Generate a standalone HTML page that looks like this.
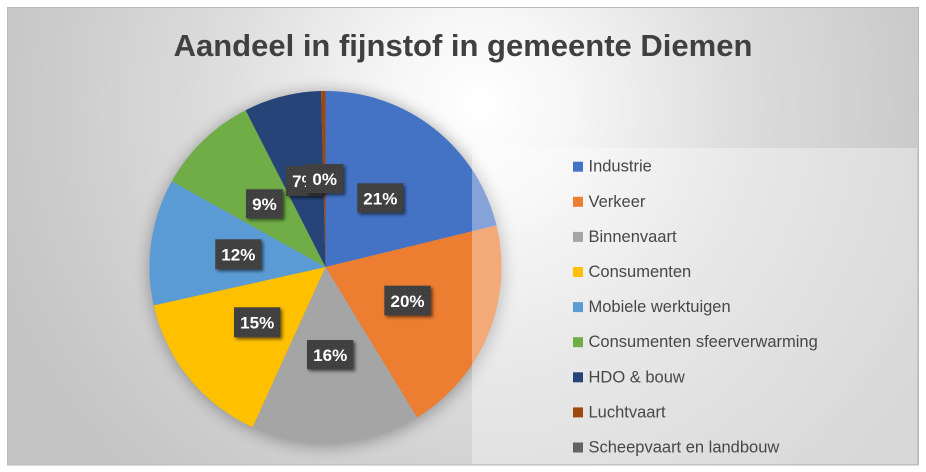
<!DOCTYPE html>
<html>
<head>
<meta charset="utf-8">
<style>
  html, body { margin:0; padding:0; background:#ffffff; }
  body { width:926px; height:472px; overflow:hidden; }
  svg { display:block; }
</style>
</head>
<body>
<svg width="926" height="472" viewBox="0 0 926 472" xmlns="http://www.w3.org/2000/svg">
  <defs>
    <radialGradient id="bg" gradientUnits="userSpaceOnUse" cx="480" cy="105" r="520">
      <stop offset="0" stop-color="#ffffff"/>
      <stop offset="0.18" stop-color="#f6f6f6"/>
      <stop offset="0.5" stop-color="#dddddd"/>
      <stop offset="0.85" stop-color="#cacaca"/>
      <stop offset="1" stop-color="#c4c4c4"/>
    </radialGradient>
    <filter id="pieShadow" x="-30%" y="-30%" width="160%" height="160%">
      <feGaussianBlur stdDeviation="8"/>
    </filter>
    <filter id="boxShadow" x="-30%" y="-30%" width="160%" height="160%">
      <feGaussianBlur stdDeviation="1.5"/>
    </filter>
    <pattern id="tex" width="4" height="4" patternUnits="userSpaceOnUse">
      <rect width="4" height="4" fill="#3f3f3f"/>
      <rect x="0" y="0" width="1" height="1" fill="#4d4d4d"/>
      <rect x="2" y="2" width="1" height="1" fill="#4a4a4a"/>
    </pattern>
  </defs>

  <!-- chart background -->
  <rect x="7" y="7" width="911" height="458" fill="url(#bg)"/>
  <rect x="7.5" y="7.5" width="911" height="457.5" fill="none" stroke="#bababa" stroke-width="1"/>

  <!-- title -->
  <text x="463" y="56" text-anchor="middle" font-family="Liberation Sans, sans-serif" font-weight="bold" font-size="31" fill="#404040">Aandeel in fijnstof in gemeente Diemen</text>

  <!-- pie shadow -->
  <circle cx="326.5" cy="269" r="177" fill="#000" opacity="0.32" filter="url(#pieShadow)"/>

  <!-- pie slices -->
  <g stroke="none">
    <path d="M325.5,267 L325.5,91 A176,176 0 0 1 496.5,225.4 Z" fill="#4472C4"/>
    <path d="M325.5,267 L496.5,225.4 A176,176 0 0 1 417.0,417.4 Z" fill="#ED7D31"/>
    <path d="M325.5,267 L417.0,417.4 A176,176 0 0 1 252.6,427.2 Z" fill="#A5A5A5"/>
    <path d="M325.5,267 L252.6,427.2 A176,176 0 0 1 153.7,305.4 Z" fill="#FFC000"/>
    <path d="M325.5,267 L153.7,305.4 A176,176 0 0 1 171.8,181.2 Z" fill="#5B9BD5"/>
    <path d="M325.5,267 L171.8,181.2 A176,176 0 0 1 245.6,110.2 Z" fill="#70AD47"/>
    <path d="M325.5,267 L245.6,110.2 A176,176 0 0 1 321.1,91.0 Z" fill="#264478"/>
    <path d="M325.5,267 L321.1,91.0 A176,176 0 0 1 325.5,91 Z" fill="#9E480E"/>
  </g>

  <!-- legend overlay -->
  <rect x="472" y="148" width="445" height="316" fill="#ffffff" opacity="0.35"/>

  <!-- data labels -->
  <g font-family="Liberation Sans, sans-serif" font-weight="bold" font-size="17" fill="#ffffff" text-anchor="middle">
    <rect x="359.3" y="185.3" width="46" height="29.4" fill="#000" opacity="0.55" filter="url(#boxShadow)"/>
    <rect x="357.3" y="183.3" width="46" height="29.4" fill="url(#tex)"/>
    <text x="380.3" y="204.3">21%</text>
    <rect x="386.3" y="287.7" width="46.4" height="29.6" fill="#000" opacity="0.55" filter="url(#boxShadow)"/>
    <rect x="384.3" y="285.7" width="46.4" height="29.6" fill="url(#tex)"/>
    <text x="407.5" y="306.8">20%</text>
    <rect x="309" y="342" width="46.3" height="29.3" fill="#000" opacity="0.55" filter="url(#boxShadow)"/>
    <rect x="307" y="340" width="46.3" height="29.3" fill="url(#tex)"/>
    <text x="330.2" y="361">16%</text>
    <rect x="236" y="309.3" width="46.3" height="30" fill="#000" opacity="0.55" filter="url(#boxShadow)"/>
    <rect x="234" y="307.3" width="46.3" height="30" fill="url(#tex)"/>
    <text x="257.2" y="328.4">15%</text>
    <rect x="217.3" y="241.3" width="46" height="30" fill="#000" opacity="0.55" filter="url(#boxShadow)"/>
    <rect x="215.3" y="239.3" width="46" height="30" fill="url(#tex)"/>
    <text x="238.3" y="260.4">12%</text>
    <rect x="248" y="191.3" width="36.7" height="29" fill="#000" opacity="0.55" filter="url(#boxShadow)"/>
    <rect x="246" y="189.3" width="36.7" height="29" fill="url(#tex)"/>
    <text x="264.4" y="210.2">9%</text>
    <rect x="288" y="168" width="36.7" height="30" fill="#000" opacity="0.55" filter="url(#boxShadow)"/>
    <rect x="286" y="166" width="36.7" height="30" fill="url(#tex)"/>
    <text x="304.4" y="187.2">7%</text>
    <rect x="308" y="166" width="37.3" height="29.3" fill="#000" opacity="0.55" filter="url(#boxShadow)"/>
    <rect x="306" y="164" width="37.3" height="29.3" fill="url(#tex)"/>
    <text x="324.7" y="185">0%</text>
  </g>

  <!-- legend -->
  <g font-family="Liberation Sans, sans-serif" font-size="16.5" fill="#474747">
    <rect x="573" y="161.7" width="10" height="10" fill="#4472C4"/>
    <text x="588.5" y="171.7">Industrie</text>
    <rect x="573" y="196.8" width="10" height="10" fill="#ED7D31"/>
    <text x="588.5" y="206.8">Verkeer</text>
    <rect x="573" y="231.9" width="10" height="10" fill="#A5A5A5"/>
    <text x="588.5" y="241.9">Binnenvaart</text>
    <rect x="573" y="267" width="10" height="10" fill="#FFC000"/>
    <text x="588.5" y="277">Consumenten</text>
    <rect x="573" y="302.1" width="10" height="10" fill="#5B9BD5"/>
    <text x="588.5" y="312.1">Mobiele werktuigen</text>
    <rect x="573" y="337.2" width="10" height="10" fill="#70AD47"/>
    <text x="588.5" y="347.2">Consumenten sfeerverwarming</text>
    <rect x="573" y="372.3" width="10" height="10" fill="#264478"/>
    <text x="588.5" y="382.3">HDO &amp; bouw</text>
    <rect x="573" y="407.4" width="10" height="10" fill="#9E480E"/>
    <text x="588.5" y="417.4">Luchtvaart</text>
    <rect x="573" y="442.5" width="10" height="10" fill="#636363"/>
    <text x="588.5" y="452.5">Scheepvaart en landbouw</text>
  </g>
</svg>
</body>
</html>
